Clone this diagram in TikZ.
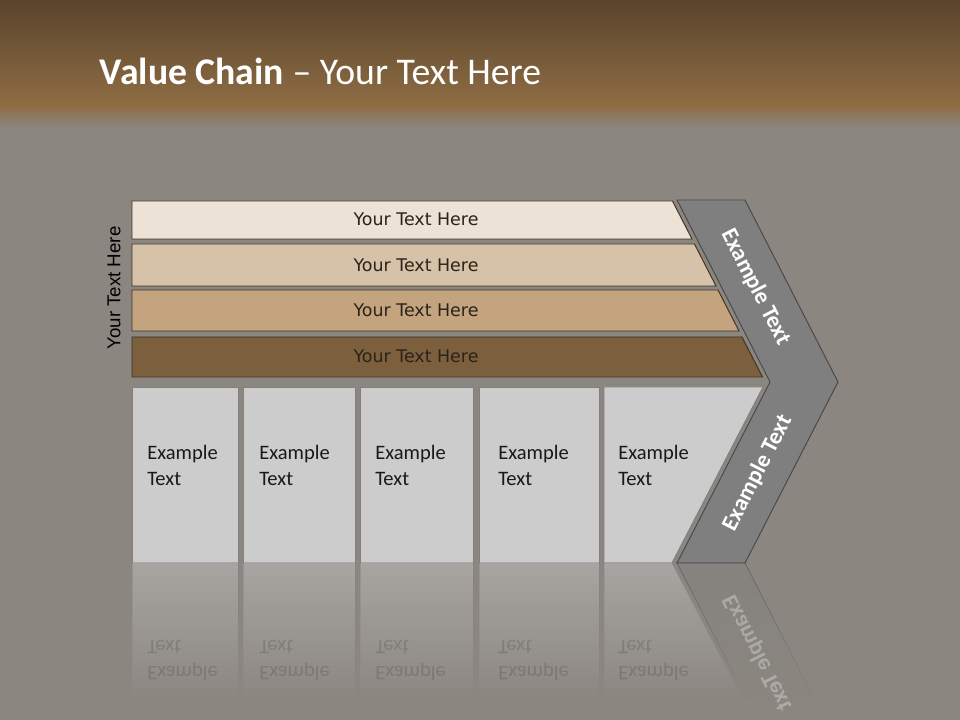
\documentclass[tikz,border=0pt]{standalone}
\usepackage{fontspec}
\setmainfont{Carlito}
\newfontfamily\barfont{DejaVu Sans}
\newfontfamily\sidefont{Liberation Sans}
\usetikzlibrary{fadings}

\definecolor{burlap}{HTML}{8B8680}
\definecolor{titletop}{HTML}{5A442C}
\definecolor{titlebot}{HTML}{8E6D44}
\definecolor{bar1}{HTML}{ECE2D6}
\definecolor{bar2}{HTML}{D6C2A8}
\definecolor{bar3}{HTML}{C3A47F}
\definecolor{bar4}{HTML}{7C5F3D}
\definecolor{barline}{HTML}{3F3326}
\definecolor{bartxt}{HTML}{2B2218}
\definecolor{cellfill}{HTML}{CCCCCC}
\definecolor{cellline}{HTML}{808080}
\definecolor{chevfill}{HTML}{7F7F7F}
\definecolor{chevline}{HTML}{4A4A4A}

\begin{document}
\begin{tikzpicture}[
    x=0.025cm, y=-0.025cm,
    bar/.style={draw=barline, line width=0.7pt},
    bartext/.style={font=\barfont\fontsize{12.4}{14}\selectfont, text=bartxt},
    cell/.style={fill=cellfill, draw=cellline, line width=0.7pt},
    celltext/.style={
        font=\fontsize{14.6}{18.5}\selectfont, align=left, anchor=west,
        inner sep=0pt, text=black!90
    },
    chevron/.style={fill=chevfill, draw=chevline, line width=0.7pt},
    chevtext/.style={font=\bfseries\fontsize{16.5}{19}\selectfont, text=white},
    mirror/.style={path fading=south, fill opacity=0.45, draw opacity=0.45},
    mirrortext/.style={yscale=-1, text opacity=0.17}
]

\useasboundingbox (0,0) rectangle (960,720);
\fill[burlap] (0,0) rectangle (960,720);

% title band
\shade[top color=titletop, bottom color=titlebot] (0,0) rectangle (960,106);
\shade[top color=titlebot, bottom color=burlap] (0,106) rectangle (960,128);
\node[anchor=base west, text=white, font=\fontsize{26.8}{30}\selectfont] (title) at (95,85)
    {\textbf{Value Chain} -- Your Text Here};

% support rows
\draw[bar, fill=bar1] (132,201) -- (672.5,201) -- (692,239) -- (132,239) -- cycle;
\draw[bar, fill=bar2] (132,244) -- (694.5,244) -- (716,286) -- (132,286) -- cycle;
\draw[bar, fill=bar3] (132,290) -- (718,290) -- (739,331) -- (132,331) -- cycle;
\draw[bar, fill=bar4] (132,337) -- (742,337) -- (762.5,377) -- (132,377) -- cycle;

\node[bartext] (row1) at (416,219) {Your Text Here};
\node[bartext] (row2) at (416,265.5) {Your Text Here};
\node[bartext] (row3) at (416,310.5) {Your Text Here};
\node[bartext] (row4) at (416,356.5) {Your Text Here};

\node[font=\sidefont\fontsize{13.3}{15}\selectfont, rotate=90] (side) at (114,288) {Your Text Here};

% primary cells
\draw[cell] (132,387) rectangle (238,563);
\draw[cell] (243,387) rectangle (355,563);
\draw[cell] (360,387) rectangle (473,563);
\draw[cell] (479,387) rectangle (599,563);
\draw[cell] (604,387) -- (763,387) -- (672,563) -- (604,563) -- cycle;

\node[celltext] (cell1) at (147,465) {Example\\Text};
\node[celltext] (cell2) at (259,465) {Example\\Text};
\node[celltext] (cell3) at (375,465) {Example\\Text};
\node[celltext] (cell4) at (498,465) {Example\\Text};
\node[celltext] (cell5) at (618,465) {Example\\Text};

% margin chevron
\draw[chevron] (677,200) -- (745,200) -- (838,382) -- (745,563) -- (677,563) -- (770,382) -- cycle;
\node[chevtext, rotate=-62.9] (upper) at (755.5,287) {Example Text};
\node[chevtext, rotate=62.9] (lower) at (757.5,473) {Example Text};

% reflection
\path[cell, mirror] (132,563) rectangle (238,700);
\path[cell, mirror] (243,563) rectangle (355,700);
\path[cell, mirror] (360,563) rectangle (473,700);
\path[cell, mirror] (479,563) rectangle (599,700);
\path[cell, mirror] (604,563) -- (672,563) -- (743,700) -- (604,700) -- cycle;
\path[chevron, mirror] (677,563) -- (745,563) -- (815,700) -- (747,700) -- cycle;

\node[celltext, mirrortext] (echo1) at (147,661) {Example\\Text};
\node[celltext, mirrortext] (echo2) at (259,661) {Example\\Text};
\node[celltext, mirrortext] (echo3) at (375,661) {Example\\Text};
\node[celltext, mirrortext] (echo4) at (498,661) {Example\\Text};
\node[celltext, mirrortext] (echo5) at (618,661) {Example\\Text};
\node[chevtext, rotate=-62.9, yscale=-1, text opacity=0.3] (echo6) at (757.5,653) {Example Text};

\end{tikzpicture}
\end{document}
